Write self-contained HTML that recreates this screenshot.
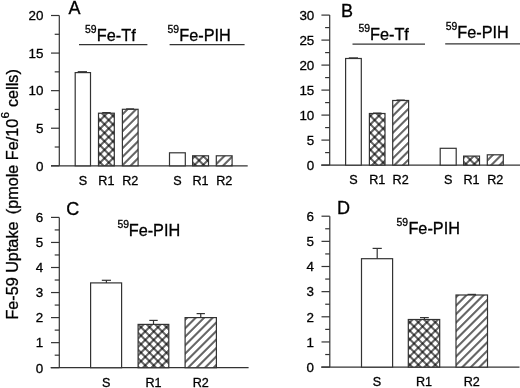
<!DOCTYPE html>
<html><head><meta charset="utf-8"><style>
html,body{margin:0;padding:0;background:#fff;width:520px;height:388px;overflow:hidden}
svg{display:block;filter:blur(0.3px)}
text{font-family:"Liberation Sans", sans-serif;fill:#000;stroke:#000;stroke-width:0.3px}
</style></head><body>
<svg width="520" height="388" viewBox="0 0 520 388">
<defs>
<filter id="hc" x="0" y="0" width="1" height="1" color-interpolation-filters="sRGB"><feComponentTransfer>
<feFuncR type="gamma" amplitude="1" exponent="2.0" offset="0"/><feFuncG type="gamma" amplitude="1" exponent="2.0" offset="0"/><feFuncB type="gamma" amplitude="1" exponent="2.0" offset="0"/>
</feComponentTransfer></filter>
<pattern id="p1" patternUnits="userSpaceOnUse" width="5.9998" height="5.9998" patternTransform="translate(2.675,5.525) rotate(45)"><rect x="0" y="0" width="5.9998" height="5.9998" fill="#fff"/><line x1="0" y1="-1" x2="0" y2="7.000" stroke="#000" stroke-width="0.72"/><line x1="-1" y1="0" x2="7.000" y2="0" stroke="#000" stroke-width="0.72"/><line x1="5.9998" y1="-1" x2="5.9998" y2="7.000" stroke="#000" stroke-width="0.72"/><line x1="-1" y1="5.9998" x2="7.000" y2="5.9998" stroke="#000" stroke-width="0.72"/></pattern>
<pattern id="p2" patternUnits="userSpaceOnUse" width="5.9998" height="5.9998" patternTransform="translate(7.800,0.000) rotate(45)"><rect x="0" y="0" width="5.9998" height="5.9998" fill="#fff"/><line x1="0" y1="-1" x2="0" y2="7.000" stroke="#000" stroke-width="0.72"/><line x1="5.9998" y1="-1" x2="5.9998" y2="7.000" stroke="#000" stroke-width="0.72"/></pattern>
<pattern id="p3" patternUnits="userSpaceOnUse" width="5.9998" height="5.9998" patternTransform="translate(-0.300,3.500) rotate(45)"><rect x="0" y="0" width="5.9998" height="5.9998" fill="#fff"/><line x1="0" y1="-1" x2="0" y2="7.000" stroke="#000" stroke-width="0.72"/><line x1="-1" y1="0" x2="7.000" y2="0" stroke="#000" stroke-width="0.72"/><line x1="5.9998" y1="-1" x2="5.9998" y2="7.000" stroke="#000" stroke-width="0.72"/><line x1="-1" y1="5.9998" x2="7.000" y2="5.9998" stroke="#000" stroke-width="0.72"/></pattern>
<pattern id="p4" patternUnits="userSpaceOnUse" width="5.9998" height="5.9998" patternTransform="translate(7.000,0.000) rotate(45)"><rect x="0" y="0" width="5.9998" height="5.9998" fill="#fff"/><line x1="0" y1="-1" x2="0" y2="7.000" stroke="#000" stroke-width="0.72"/><line x1="5.9998" y1="-1" x2="5.9998" y2="7.000" stroke="#000" stroke-width="0.72"/></pattern>
<pattern id="p5" patternUnits="userSpaceOnUse" width="5.9998" height="5.9998" patternTransform="translate(1.325,1.325) rotate(45)"><rect x="0" y="0" width="5.9998" height="5.9998" fill="#fff"/><line x1="0" y1="-1" x2="0" y2="7.000" stroke="#000" stroke-width="0.72"/><line x1="-1" y1="0" x2="7.000" y2="0" stroke="#000" stroke-width="0.72"/><line x1="5.9998" y1="-1" x2="5.9998" y2="7.000" stroke="#000" stroke-width="0.72"/><line x1="-1" y1="5.9998" x2="7.000" y2="5.9998" stroke="#000" stroke-width="0.72"/></pattern>
<pattern id="p6" patternUnits="userSpaceOnUse" width="5.9998" height="5.9998" patternTransform="translate(8.100,0.000) rotate(45)"><rect x="0" y="0" width="5.9998" height="5.9998" fill="#fff"/><line x1="0" y1="-1" x2="0" y2="7.000" stroke="#000" stroke-width="0.72"/><line x1="5.9998" y1="-1" x2="5.9998" y2="7.000" stroke="#000" stroke-width="0.72"/></pattern>
<pattern id="p7" patternUnits="userSpaceOnUse" width="5.9998" height="5.9998" patternTransform="translate(-0.800,2.800) rotate(45)"><rect x="0" y="0" width="5.9998" height="5.9998" fill="#fff"/><line x1="0" y1="-1" x2="0" y2="7.000" stroke="#000" stroke-width="0.72"/><line x1="-1" y1="0" x2="7.000" y2="0" stroke="#000" stroke-width="0.72"/><line x1="5.9998" y1="-1" x2="5.9998" y2="7.000" stroke="#000" stroke-width="0.72"/><line x1="-1" y1="5.9998" x2="7.000" y2="5.9998" stroke="#000" stroke-width="0.72"/></pattern>
<pattern id="p8" patternUnits="userSpaceOnUse" width="5.9998" height="5.9998" patternTransform="translate(3.000,0.000) rotate(45)"><rect x="0" y="0" width="5.9998" height="5.9998" fill="#fff"/><line x1="0" y1="-1" x2="0" y2="7.000" stroke="#000" stroke-width="0.72"/><line x1="5.9998" y1="-1" x2="5.9998" y2="7.000" stroke="#000" stroke-width="0.72"/></pattern>
<pattern id="p9" patternUnits="userSpaceOnUse" width="5.9998" height="5.9998" patternTransform="translate(-3.250,4.750) rotate(45)"><rect x="0" y="0" width="5.9998" height="5.9998" fill="#fff"/><line x1="0" y1="-1" x2="0" y2="7.000" stroke="#000" stroke-width="0.72"/><line x1="-1" y1="0" x2="7.000" y2="0" stroke="#000" stroke-width="0.72"/><line x1="5.9998" y1="-1" x2="5.9998" y2="7.000" stroke="#000" stroke-width="0.72"/><line x1="-1" y1="5.9998" x2="7.000" y2="5.9998" stroke="#000" stroke-width="0.72"/></pattern>
<pattern id="p10" patternUnits="userSpaceOnUse" width="5.9998" height="5.9998" patternTransform="translate(4.300,0.000) rotate(45)"><rect x="0" y="0" width="5.9998" height="5.9998" fill="#fff"/><line x1="0" y1="-1" x2="0" y2="7.000" stroke="#000" stroke-width="0.72"/><line x1="5.9998" y1="-1" x2="5.9998" y2="7.000" stroke="#000" stroke-width="0.72"/></pattern>
<pattern id="p11" patternUnits="userSpaceOnUse" width="5.9998" height="5.9998" patternTransform="translate(-1.700,4.100) rotate(45)"><rect x="0" y="0" width="5.9998" height="5.9998" fill="#fff"/><line x1="0" y1="-1" x2="0" y2="7.000" stroke="#000" stroke-width="0.72"/><line x1="-1" y1="0" x2="7.000" y2="0" stroke="#000" stroke-width="0.72"/><line x1="5.9998" y1="-1" x2="5.9998" y2="7.000" stroke="#000" stroke-width="0.72"/><line x1="-1" y1="5.9998" x2="7.000" y2="5.9998" stroke="#000" stroke-width="0.72"/></pattern>
<pattern id="p12" patternUnits="userSpaceOnUse" width="5.9998" height="5.9998" patternTransform="translate(6.500,0.000) rotate(45)"><rect x="0" y="0" width="5.9998" height="5.9998" fill="#fff"/><line x1="0" y1="-1" x2="0" y2="7.000" stroke="#000" stroke-width="0.72"/><line x1="5.9998" y1="-1" x2="5.9998" y2="7.000" stroke="#000" stroke-width="0.72"/></pattern>
</defs>
<rect width="520" height="388" fill="#fff"/>
<line x1="59.30" y1="15.50" x2="59.30" y2="165.80" stroke="#333" stroke-width="1.2"/>
<line x1="51.00" y1="165.80" x2="59.30" y2="165.80" stroke="#333" stroke-width="1.2"/>
<text x="43.50" y="170.60" font-size="13.4" text-anchor="end" >0</text>
<line x1="51.00" y1="128.23" x2="59.30" y2="128.23" stroke="#333" stroke-width="1.2"/>
<text x="43.50" y="133.03" font-size="13.4" text-anchor="end" >5</text>
<line x1="51.00" y1="90.65" x2="59.30" y2="90.65" stroke="#333" stroke-width="1.2"/>
<text x="43.50" y="95.45" font-size="13.4" text-anchor="end" >10</text>
<line x1="51.00" y1="53.08" x2="59.30" y2="53.08" stroke="#333" stroke-width="1.2"/>
<text x="43.50" y="57.88" font-size="13.4" text-anchor="end" >15</text>
<line x1="51.00" y1="15.50" x2="59.30" y2="15.50" stroke="#333" stroke-width="1.2"/>
<text x="43.50" y="20.30" font-size="13.4" text-anchor="end" >20</text>
<line x1="54.70" y1="147.01" x2="59.30" y2="147.01" stroke="#333" stroke-width="1.2"/>
<line x1="54.70" y1="109.44" x2="59.30" y2="109.44" stroke="#333" stroke-width="1.2"/>
<line x1="54.70" y1="71.86" x2="59.30" y2="71.86" stroke="#333" stroke-width="1.2"/>
<line x1="54.70" y1="34.29" x2="59.30" y2="34.29" stroke="#333" stroke-width="1.2"/>
<line x1="51.00" y1="165.80" x2="247.70" y2="165.80" stroke="#333" stroke-width="1.2"/>
<rect x="75.20" y="72.60" width="15.30" height="93.20" fill="#fff" stroke="#333" stroke-width="1.2"/>
<text x="82.85" y="185.00" font-size="12.6" text-anchor="middle" >S</text>
<rect x="98.50" y="113.20" width="15.80" height="52.60" fill="url(#p1)" filter="url(#hc)"/>
<rect x="98.50" y="113.20" width="15.80" height="52.60" fill="none" stroke="#333" stroke-width="1.2"/>
<text x="106.40" y="185.00" font-size="12.6" text-anchor="middle" >R1</text>
<rect x="122.40" y="109.30" width="15.70" height="56.50" fill="url(#p2)" filter="url(#hc)"/>
<rect x="122.40" y="109.30" width="15.70" height="56.50" fill="none" stroke="#333" stroke-width="1.2"/>
<text x="130.25" y="185.00" font-size="12.6" text-anchor="middle" >R2</text>
<rect x="169.50" y="152.80" width="15.80" height="13.00" fill="#fff" stroke="#333" stroke-width="1.2"/>
<text x="177.40" y="185.00" font-size="12.6" text-anchor="middle" >S</text>
<rect x="192.60" y="155.80" width="15.90" height="10.00" fill="url(#p3)" filter="url(#hc)"/>
<rect x="192.60" y="155.80" width="15.90" height="10.00" fill="none" stroke="#333" stroke-width="1.2"/>
<text x="200.55" y="185.00" font-size="12.6" text-anchor="middle" >R1</text>
<rect x="216.30" y="155.80" width="15.80" height="10.00" fill="url(#p4)" filter="url(#hc)"/>
<rect x="216.30" y="155.80" width="15.80" height="10.00" fill="none" stroke="#333" stroke-width="1.2"/>
<text x="224.20" y="185.00" font-size="12.6" text-anchor="middle" >R2</text>
<line x1="77.70" y1="71.80" x2="87.00" y2="71.80" stroke="#333" stroke-width="1.4"/>
<line x1="102.20" y1="112.60" x2="110.70" y2="112.60" stroke="#333" stroke-width="1.2"/>
<line x1="126.10" y1="108.90" x2="134.10" y2="108.90" stroke="#333" stroke-width="1.2"/>
<line x1="329.70" y1="15.10" x2="329.70" y2="165.10" stroke="#333" stroke-width="1.2"/>
<line x1="321.40" y1="165.10" x2="329.70" y2="165.10" stroke="#333" stroke-width="1.2"/>
<text x="314.30" y="169.90" font-size="13.4" text-anchor="end" >0</text>
<line x1="321.40" y1="140.10" x2="329.70" y2="140.10" stroke="#333" stroke-width="1.2"/>
<text x="314.30" y="144.90" font-size="13.4" text-anchor="end" >5</text>
<line x1="321.40" y1="115.10" x2="329.70" y2="115.10" stroke="#333" stroke-width="1.2"/>
<text x="314.30" y="119.90" font-size="13.4" text-anchor="end" >10</text>
<line x1="321.40" y1="90.10" x2="329.70" y2="90.10" stroke="#333" stroke-width="1.2"/>
<text x="314.30" y="94.90" font-size="13.4" text-anchor="end" >15</text>
<line x1="321.40" y1="65.10" x2="329.70" y2="65.10" stroke="#333" stroke-width="1.2"/>
<text x="314.30" y="69.90" font-size="13.4" text-anchor="end" >20</text>
<line x1="321.40" y1="40.10" x2="329.70" y2="40.10" stroke="#333" stroke-width="1.2"/>
<text x="314.30" y="44.90" font-size="13.4" text-anchor="end" >25</text>
<line x1="321.40" y1="15.10" x2="329.70" y2="15.10" stroke="#333" stroke-width="1.2"/>
<text x="314.30" y="19.90" font-size="13.4" text-anchor="end" >30</text>
<line x1="325.10" y1="152.60" x2="329.70" y2="152.60" stroke="#333" stroke-width="1.2"/>
<line x1="325.10" y1="127.60" x2="329.70" y2="127.60" stroke="#333" stroke-width="1.2"/>
<line x1="325.10" y1="102.60" x2="329.70" y2="102.60" stroke="#333" stroke-width="1.2"/>
<line x1="325.10" y1="77.60" x2="329.70" y2="77.60" stroke="#333" stroke-width="1.2"/>
<line x1="325.10" y1="52.60" x2="329.70" y2="52.60" stroke="#333" stroke-width="1.2"/>
<line x1="325.10" y1="27.60" x2="329.70" y2="27.60" stroke="#333" stroke-width="1.2"/>
<line x1="321.20" y1="165.10" x2="520.00" y2="165.10" stroke="#333" stroke-width="1.2"/>
<rect x="345.60" y="58.50" width="15.70" height="106.60" fill="#fff" stroke="#333" stroke-width="1.2"/>
<text x="353.45" y="183.80" font-size="12.6" text-anchor="middle" >S</text>
<rect x="369.40" y="113.50" width="15.60" height="51.60" fill="url(#p5)" filter="url(#hc)"/>
<rect x="369.40" y="113.50" width="15.60" height="51.60" fill="none" stroke="#333" stroke-width="1.2"/>
<text x="377.20" y="183.80" font-size="12.6" text-anchor="middle" >R1</text>
<rect x="392.70" y="100.50" width="15.90" height="64.60" fill="url(#p6)" filter="url(#hc)"/>
<rect x="392.70" y="100.50" width="15.90" height="64.60" fill="none" stroke="#333" stroke-width="1.2"/>
<text x="400.65" y="183.80" font-size="12.6" text-anchor="middle" >R2</text>
<rect x="440.20" y="148.30" width="16.00" height="16.80" fill="#fff" stroke="#333" stroke-width="1.2"/>
<text x="448.20" y="183.80" font-size="12.6" text-anchor="middle" >S</text>
<rect x="463.60" y="156.10" width="15.90" height="9.00" fill="url(#p7)" filter="url(#hc)"/>
<rect x="463.60" y="156.10" width="15.90" height="9.00" fill="none" stroke="#333" stroke-width="1.2"/>
<text x="471.55" y="183.80" font-size="12.6" text-anchor="middle" >R1</text>
<rect x="487.30" y="154.80" width="16.00" height="10.30" fill="url(#p8)" filter="url(#hc)"/>
<rect x="487.30" y="154.80" width="16.00" height="10.30" fill="none" stroke="#333" stroke-width="1.2"/>
<text x="495.30" y="183.80" font-size="12.6" text-anchor="middle" >R2</text>
<line x1="348.80" y1="58.00" x2="358.00" y2="58.00" stroke="#333" stroke-width="1.4"/>
<line x1="373.00" y1="113.10" x2="381.50" y2="113.10" stroke="#333" stroke-width="1.2"/>
<line x1="396.50" y1="100.10" x2="404.80" y2="100.10" stroke="#333" stroke-width="1.2"/>
<line x1="59.30" y1="217.40" x2="59.30" y2="367.70" stroke="#333" stroke-width="1.2"/>
<line x1="51.00" y1="367.70" x2="59.30" y2="367.70" stroke="#333" stroke-width="1.2"/>
<text x="43.30" y="372.50" font-size="13.4" text-anchor="end" >0</text>
<line x1="51.00" y1="342.65" x2="59.30" y2="342.65" stroke="#333" stroke-width="1.2"/>
<text x="43.30" y="347.45" font-size="13.4" text-anchor="end" >1</text>
<line x1="51.00" y1="317.60" x2="59.30" y2="317.60" stroke="#333" stroke-width="1.2"/>
<text x="43.30" y="322.40" font-size="13.4" text-anchor="end" >2</text>
<line x1="51.00" y1="292.55" x2="59.30" y2="292.55" stroke="#333" stroke-width="1.2"/>
<text x="43.30" y="297.35" font-size="13.4" text-anchor="end" >3</text>
<line x1="51.00" y1="267.50" x2="59.30" y2="267.50" stroke="#333" stroke-width="1.2"/>
<text x="43.30" y="272.30" font-size="13.4" text-anchor="end" >4</text>
<line x1="51.00" y1="242.45" x2="59.30" y2="242.45" stroke="#333" stroke-width="1.2"/>
<text x="43.30" y="247.25" font-size="13.4" text-anchor="end" >5</text>
<line x1="51.00" y1="217.40" x2="59.30" y2="217.40" stroke="#333" stroke-width="1.2"/>
<text x="43.30" y="222.20" font-size="13.4" text-anchor="end" >6</text>
<line x1="54.70" y1="355.18" x2="59.30" y2="355.18" stroke="#333" stroke-width="1.2"/>
<line x1="54.70" y1="330.12" x2="59.30" y2="330.12" stroke="#333" stroke-width="1.2"/>
<line x1="54.70" y1="305.07" x2="59.30" y2="305.07" stroke="#333" stroke-width="1.2"/>
<line x1="54.70" y1="280.02" x2="59.30" y2="280.02" stroke="#333" stroke-width="1.2"/>
<line x1="54.70" y1="254.97" x2="59.30" y2="254.97" stroke="#333" stroke-width="1.2"/>
<line x1="54.70" y1="229.93" x2="59.30" y2="229.93" stroke="#333" stroke-width="1.2"/>
<line x1="50.60" y1="367.70" x2="248.60" y2="367.70" stroke="#333" stroke-width="1.2"/>
<rect x="90.60" y="282.90" width="31.00" height="84.80" fill="#fff" stroke="#333" stroke-width="1.2"/>
<line x1="106.40" y1="282.90" x2="106.40" y2="280.30" stroke="#333" stroke-width="1.2"/>
<line x1="101.80" y1="280.30" x2="111.00" y2="280.30" stroke="#333" stroke-width="1.2"/>
<text x="106.10" y="386.60" font-size="12.6" text-anchor="middle" >S</text>
<rect x="138.10" y="324.40" width="30.70" height="43.30" fill="url(#p9)" filter="url(#hc)"/>
<rect x="138.10" y="324.40" width="30.70" height="43.30" fill="none" stroke="#333" stroke-width="1.2"/>
<line x1="153.50" y1="324.40" x2="153.50" y2="320.40" stroke="#333" stroke-width="1.2"/>
<line x1="149.30" y1="320.40" x2="157.70" y2="320.40" stroke="#333" stroke-width="1.2"/>
<text x="153.45" y="386.60" font-size="12.6" text-anchor="middle" >R1</text>
<rect x="185.10" y="317.60" width="31.30" height="50.10" fill="url(#p10)" filter="url(#hc)"/>
<rect x="185.10" y="317.60" width="31.30" height="50.10" fill="none" stroke="#333" stroke-width="1.2"/>
<line x1="200.75" y1="317.60" x2="200.75" y2="313.60" stroke="#333" stroke-width="1.2"/>
<line x1="196.60" y1="313.60" x2="204.90" y2="313.60" stroke="#333" stroke-width="1.2"/>
<text x="200.75" y="386.60" font-size="12.6" text-anchor="middle" >R2</text>
<line x1="329.80" y1="216.20" x2="329.80" y2="367.10" stroke="#333" stroke-width="1.2"/>
<line x1="321.50" y1="367.10" x2="329.80" y2="367.10" stroke="#333" stroke-width="1.2"/>
<text x="313.90" y="371.90" font-size="13.4" text-anchor="end" >0</text>
<line x1="321.50" y1="341.95" x2="329.80" y2="341.95" stroke="#333" stroke-width="1.2"/>
<text x="313.90" y="346.75" font-size="13.4" text-anchor="end" >1</text>
<line x1="321.50" y1="316.80" x2="329.80" y2="316.80" stroke="#333" stroke-width="1.2"/>
<text x="313.90" y="321.60" font-size="13.4" text-anchor="end" >2</text>
<line x1="321.50" y1="291.65" x2="329.80" y2="291.65" stroke="#333" stroke-width="1.2"/>
<text x="313.90" y="296.45" font-size="13.4" text-anchor="end" >3</text>
<line x1="321.50" y1="266.50" x2="329.80" y2="266.50" stroke="#333" stroke-width="1.2"/>
<text x="313.90" y="271.30" font-size="13.4" text-anchor="end" >4</text>
<line x1="321.50" y1="241.35" x2="329.80" y2="241.35" stroke="#333" stroke-width="1.2"/>
<text x="313.90" y="246.15" font-size="13.4" text-anchor="end" >5</text>
<line x1="321.50" y1="216.20" x2="329.80" y2="216.20" stroke="#333" stroke-width="1.2"/>
<text x="313.90" y="221.00" font-size="13.4" text-anchor="end" >6</text>
<line x1="325.20" y1="354.53" x2="329.80" y2="354.53" stroke="#333" stroke-width="1.2"/>
<line x1="325.20" y1="329.38" x2="329.80" y2="329.38" stroke="#333" stroke-width="1.2"/>
<line x1="325.20" y1="304.23" x2="329.80" y2="304.23" stroke="#333" stroke-width="1.2"/>
<line x1="325.20" y1="279.07" x2="329.80" y2="279.07" stroke="#333" stroke-width="1.2"/>
<line x1="325.20" y1="253.93" x2="329.80" y2="253.93" stroke="#333" stroke-width="1.2"/>
<line x1="325.20" y1="228.77" x2="329.80" y2="228.77" stroke="#333" stroke-width="1.2"/>
<line x1="321.20" y1="367.10" x2="519.50" y2="367.10" stroke="#333" stroke-width="1.2"/>
<rect x="361.50" y="258.70" width="31.10" height="108.40" fill="#fff" stroke="#333" stroke-width="1.2"/>
<line x1="377.20" y1="258.70" x2="377.20" y2="248.40" stroke="#333" stroke-width="1.2"/>
<line x1="372.60" y1="248.40" x2="381.80" y2="248.40" stroke="#333" stroke-width="1.2"/>
<text x="377.05" y="386.30" font-size="12.6" text-anchor="middle" >S</text>
<rect x="408.30" y="319.50" width="31.40" height="47.60" fill="url(#p11)" filter="url(#hc)"/>
<rect x="408.30" y="319.50" width="31.40" height="47.60" fill="none" stroke="#333" stroke-width="1.2"/>
<line x1="424.40" y1="319.50" x2="424.40" y2="317.60" stroke="#333" stroke-width="1.2"/>
<line x1="420.00" y1="317.60" x2="428.80" y2="317.60" stroke="#333" stroke-width="1.2"/>
<text x="424.00" y="386.30" font-size="12.6" text-anchor="middle" >R1</text>
<rect x="456.00" y="295.00" width="31.50" height="72.10" fill="url(#p12)" filter="url(#hc)"/>
<rect x="456.00" y="295.00" width="31.50" height="72.10" fill="none" stroke="#333" stroke-width="1.2"/>
<line x1="471.75" y1="295.00" x2="471.75" y2="294.40" stroke="#333" stroke-width="1.2"/>
<line x1="467.50" y1="294.40" x2="476.00" y2="294.40" stroke="#333" stroke-width="1.2"/>
<text x="471.75" y="386.30" font-size="12.6" text-anchor="middle" >R2</text>
<text x="68.50" y="13.90" font-size="18" text-anchor="start" >A</text>
<text x="341.10" y="16.60" font-size="18" text-anchor="start" >B</text>
<text x="66.20" y="215.30" font-size="18" text-anchor="start" >C</text>
<text x="337.00" y="214.30" font-size="18" text-anchor="start" >D</text>
<text x="85.00" y="33.10" font-size="10.4" text-anchor="start" >59</text>
<text x="96.80" y="40.50" font-size="16.3" text-anchor="start" >Fe-Tf</text>
<text x="167.40" y="33.10" font-size="10.4" text-anchor="start" >59</text>
<text x="179.30" y="40.50" font-size="16.3" text-anchor="start" >Fe-PIH</text>
<line x1="79.00" y1="44.70" x2="147.40" y2="44.70" stroke="#333" stroke-width="1.3"/>
<line x1="169.60" y1="44.60" x2="244.60" y2="44.60" stroke="#333" stroke-width="1.3"/>
<text x="358.40" y="31.70" font-size="10.4" text-anchor="start" >59</text>
<text x="370.00" y="40.00" font-size="16.3" text-anchor="start" >Fe-Tf</text>
<text x="445.80" y="30.40" font-size="10.4" text-anchor="start" >59</text>
<text x="457.30" y="38.40" font-size="16.3" text-anchor="start" >Fe-PIH</text>
<line x1="352.50" y1="44.10" x2="425.00" y2="44.10" stroke="#333" stroke-width="1.3"/>
<line x1="445.20" y1="43.80" x2="520.00" y2="43.80" stroke="#333" stroke-width="1.3"/>
<text x="117.40" y="228.40" font-size="10.4" text-anchor="start" >59</text>
<text x="128.70" y="235.80" font-size="16.3" text-anchor="start" >Fe-PIH</text>
<text x="396.60" y="226.20" font-size="10.4" text-anchor="start" >59</text>
<text x="408.40" y="233.60" font-size="16.3" text-anchor="start" >Fe-PIH</text>
<text x="0" y="0" font-size="16.2" transform="translate(18.0,319.6) rotate(-90)">Fe-59 Uptake <tspan dx="2.8">(pmole Fe/10</tspan><tspan dy="-9.3" dx="0.4" font-size="11.8">6</tspan><tspan dy="9.3" dx="0.4"> cells)</tspan></text>
</svg>
</body></html>
